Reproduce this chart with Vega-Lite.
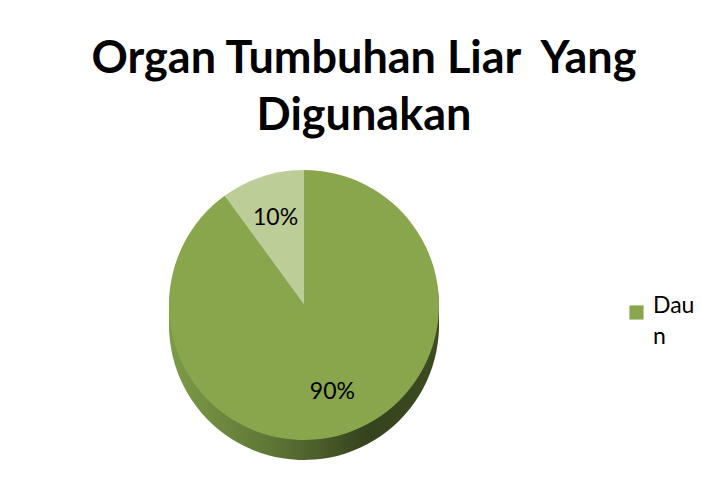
{
  "$schema": "https://vega.github.io/schema/vega-lite/v6.json",
  "autosize": "none",
  "width": 408,
  "height": 270,
  "padding": {"left": 100, "top": 170, "right": 193, "bottom": 49},
  "background": "white",
  "title": {
    "text": ["Organ Tumbuhan Liar\u00a0 Yang", "Digunakan"],
    "anchor": "middle",
    "font": "Lato",
    "fontSize": 45,
    "fontWeight": "bold",
    "color": "#000000",
    "lineHeight": 57,
    "limit": 0,
    "dx": 60,
    "offset": 31
  },
  "data": {
    "values": [
      {"organ": "Daun", "persen": 0.9},
      {"organ": "Lainnya", "persen": 0.1}
    ]
  },
  "encoding": {
    "theta": {"field": "persen", "type": "quantitative", "stack": true},
    "order": {"field": "persen", "type": "quantitative", "sort": "descending"}
  },
  "layer": [
    {
      "mark": {"type": "arc", "radius": 135, "yOffset": 20, "color": {"gradient": "linear", "x1": 0, "y1": 0, "x2": 1, "y2": 0, "stops": [{"offset": 0, "color": "#7d9c47"}, {"offset": 0.4, "color": "#5d7334"}, {"offset": 0.73, "color": "#35431e"}, {"offset": 1, "color": "#3c4b22"}]}}
    },
    {
      "mark": {"type": "arc", "radius": 135, "yOffset": 14, "color": {"gradient": "linear", "x1": 0, "y1": 0, "x2": 1, "y2": 0, "stops": [{"offset": 0, "color": "#7d9c47"}, {"offset": 0.4, "color": "#5d7334"}, {"offset": 0.73, "color": "#35431e"}, {"offset": 1, "color": "#3c4b22"}]}}
    },
    {
      "mark": {"type": "arc", "radius": 135, "yOffset": 8, "color": {"gradient": "linear", "x1": 0, "y1": 0, "x2": 1, "y2": 0, "stops": [{"offset": 0, "color": "#7d9c47"}, {"offset": 0.4, "color": "#5d7334"}, {"offset": 0.73, "color": "#35431e"}, {"offset": 1, "color": "#3c4b22"}]}}
    },
    {
      "mark": {"type": "arc", "radius": 135, "yOffset": 3, "color": {"gradient": "linear", "x1": 0, "y1": 0, "x2": 1, "y2": 0, "stops": [{"offset": 0, "color": "#7d9c47"}, {"offset": 0.4, "color": "#5d7334"}, {"offset": 0.73, "color": "#35431e"}, {"offset": 1, "color": "#3c4b22"}]}}
    },
    {
      "mark": {"type": "arc", "radius": 135},
      "encoding": {
        "color": {
          "field": "organ",
          "type": "nominal",
          "scale": {"domain": ["Daun", "Lainnya"], "range": ["#8aa64c", "#bccd97"]},
          "legend": {
            "values": ["Daun"],
            "title": null,
            "orient": "none",
            "legendX": 525,
            "legendY": 131,
            "symbolType": "square",
            "symbolSize": 200,
            "symbolStrokeWidth": 0,
            "labelFont": "Lato",
            "labelFontSize": 23,
            "labelColor": "#000000",
            "labelOffset": 5,
            "labelBaseline": "alphabetic",
            "labelExpr": "datum.label == 'Daun' ? ['Dau', 'n'] : datum.label",
            "encode": {"labels": {"update": {"lineHeight": {"value": 31}}}}
          }
        }
      }
    },
    {
      "mark": {"type": "text", "radius": 92, "font": "Lato", "fontSize": 23, "color": "#000000"},
      "encoding": {
        "text": {"field": "persen", "type": "quantitative", "format": ".0%"}
      }
    }
  ],
  "config": {
    "view": {"stroke": null}
  }
}
